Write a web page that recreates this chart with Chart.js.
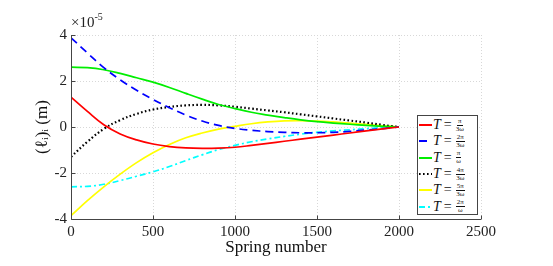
<!DOCTYPE html>
<html>
<head>
<meta charset="utf-8">
<script src="https://cdn.jsdelivr.net/npm/chart.js@4"></script>
<style>
  body { margin: 0; background: #fff; }
  #wrap { position: relative; width: 553px; height: 266px; font-family: "Liberation Serif", "DejaVu Serif", serif; }
  #expo { position: absolute; left: 71px; top: 12px; font-size: 15px; color: #222; }
  #expo sup { font-size: 10px; position: relative; top: -1px; }
  #legend { position: absolute; left: 417px; top: 115px; width: 61px; height: 100px; border: 1px solid #444; background: #fff; box-sizing: border-box; padding-top: 1px; }
  .row { height: 16.3px; display: flex; align-items: center; font-size: 14px; color: #111; }
  .row svg { margin-left: 1px; margin-right: 1px; }
  .row i { margin-right: 3px; }
  .frac { display: inline-flex; flex-direction: column; align-items: center; font-size: 7px; line-height: 7px; margin-left: 4px; }
  .frac .num { border-bottom: 0.8px solid #111; padding: 0 1px; }
</style>
</head>
<body>
<div id="wrap">
  <canvas id="chart" width="553" height="266"></canvas>
  <div id="expo">×10<sup>-5</sup></div>
  <div id="legend"></div>
</div>
<script>
// spring index (x axis)
const springs = [0, 100, 200, 300, 400, 500, 600, 700, 800, 900, 1000, 1100, 1200, 1300, 1400, 1500, 1600, 1700, 1800, 1900, 2000];

// values in units of 1e-5 m
const seriesA = [1.3, 0.68, 0.1, -0.3, -0.56, -0.74, -0.85, -0.91, -0.93, -0.92, -0.88, -0.8, -0.71, -0.62, -0.53, -0.44, -0.35, -0.26, -0.17, -0.08, 0];
const seriesB = [3.88, 3.22, 2.58, 2.05, 1.6, 1.2, 0.84, 0.52, 0.26, 0.07, -0.06, -0.14, -0.2, -0.23, -0.25, -0.25, -0.23, -0.19, -0.13, -0.07, 0];
const seriesC = [2.6, 2.58, 2.49, 2.33, 2.14, 1.95, 1.72, 1.46, 1.21, 0.98, 0.8, 0.64, 0.52, 0.41, 0.31, 0.23, 0.17, 0.12, 0.07, 0.03, 0];
const seriesD = [-1.3, -0.64, -0.08, 0.3, 0.57, 0.76, 0.87, 0.94, 0.96, 0.94, 0.88, 0.8, 0.72, 0.64, 0.55, 0.46, 0.37, 0.28, 0.19, 0.09, 0];
const seriesE = [-3.85, -3.2, -2.6, -2.05, -1.55, -1.12, -0.76, -0.47, -0.26, -0.09, 0.03, 0.14, 0.22, 0.27, 0.28, 0.26, 0.22, 0.17, 0.11, 0.05, 0];
const seriesF = [-2.6, -2.58, -2.49, -2.33, -2.14, -1.95, -1.72, -1.46, -1.21, -0.98, -0.8, -0.64, -0.52, -0.41, -0.31, -0.23, -0.17, -0.12, -0.07, -0.03, 0];

const xTicks = [0, 500, 1000, 1500, 2000, 2500];
const yTicks = [-4, -2, 0, 2, 4];

// legend labels: numerator / denominator of T
const legendNum = ['π', '2π', 'π', '4π', '5π', '2π'];
const legendDen = ['3ω', '3ω', 'ω', '3ω', '3ω', 'ω'];

const styles = [
  { color: '#ff0000', dash: [] },
  { color: '#0000ff', dash: [8, 5] },
  { color: '#00ee00', dash: [] },
  { color: '#000000', dash: [1.6, 2.4] },
  { color: '#ffff00', dash: [] },
  { color: '#00ffff', dash: [6, 3, 2, 3] }
];

const allSeries = [seriesA, seriesB, seriesC, seriesD, seriesE, seriesF];

const datasets = allSeries.map((vals, i) => ({
  label: 'T = ' + legendNum[i] + '/' + legendDen[i],
  data: springs.map((s, k) => ({ x: s, y: vals[k] })),
  borderColor: styles[i].color,
  borderDash: styles[i].dash,
  borderWidth: i === 3 ? 2.2 : 1.7,
  pointRadius: 0,
  tension: 0.4,
  fill: false
}));

// solid axis lines (left, bottom) with small inward ticks
const axesBox = {
  id: 'axesBox',
  afterDraw(chart) {
    const { ctx, chartArea: a, scales } = chart;
    ctx.save();
    ctx.strokeStyle = '#444';
    ctx.lineWidth = 1;
    const l = Math.round(a.left) + 0.5, b = Math.round(a.bottom) + 0.5;
    ctx.beginPath();
    ctx.moveTo(l, Math.round(a.top));
    ctx.lineTo(l, b);
    ctx.lineTo(Math.round(a.right), b);
    ctx.stroke();
    xTicks.forEach(v => {
      const px = Math.round(scales.x.getPixelForValue(v)) + 0.5;
      ctx.beginPath(); ctx.moveTo(px, b); ctx.lineTo(px, b - 4); ctx.stroke();
    });
    yTicks.forEach(v => {
      const py = Math.round(scales.y.getPixelForValue(v)) + 0.5;
      ctx.beginPath(); ctx.moveTo(l, py); ctx.lineTo(l + 4, py); ctx.stroke();
    });
    ctx.restore();
  }
};

new Chart(document.getElementById('chart'), {
  type: 'line',
  data: { datasets },
  plugins: [axesBox],
  options: {
    responsive: false,
    animation: false,
    layout: { padding: { left: 0, top: 35, right: 72, bottom: 0 } },
    plugins: { legend: { display: false }, tooltip: { enabled: false } },
    scales: {
      x: {
        type: 'linear',
        min: 0, max: 2500,
        afterBuildTicks: s => { s.ticks = xTicks.map(v => ({ value: v })); },
        afterFit: s => { s.height = 47; },
        grid: { color: '#d8d8d8', drawTicks: false },
        border: { display: false, dash: [1, 2] },
        ticks: { color: '#222', padding: 4, font: { family: 'Liberation Serif', size: 15 }, maxRotation: 0, callback: v => String(v) },
        title: { display: true, text: 'Spring number', color: '#111', padding: { top: 0, bottom: 8 }, font: { family: 'Liberation Serif', size: 17 } }
      },
      y: {
        min: -4, max: 4,
        afterBuildTicks: s => { s.ticks = yTicks.map(v => ({ value: v })); },
        afterFit: s => { s.width = 71; },
        grid: { color: '#d8d8d8', drawTicks: false },
        border: { display: false, dash: [1, 2] },
        ticks: { color: '#222', padding: 4, font: { family: 'Liberation Serif', size: 15 }, callback: v => String(v) },
        title: { display: true, text: '(ℓᵢ)ᵢ (m)', color: '#111', padding: { top: 32, bottom: 0 }, font: { family: 'Liberation Serif', size: 17 } }
      }
    }
  }
});

// legend in the lower right corner
const legend = document.getElementById('legend');
styles.forEach((st, i) => {
  const row = document.createElement('div');
  row.className = 'row';
  const dash = st.dash.length ? st.dash.join(',') : 'none';
  row.innerHTML =
    '<svg width="13" height="4"><line x1="0" y1="2" x2="13" y2="2" stroke="' + st.color +
    '" stroke-width="2" stroke-dasharray="' + dash + '"/></svg>' +
    '<i>T</i>=<span class="frac"><span class="num">' + legendNum[i] + '</span><span>' + legendDen[i] + '</span></span>';
  legend.appendChild(row);
});
</script>
</body>
</html>
